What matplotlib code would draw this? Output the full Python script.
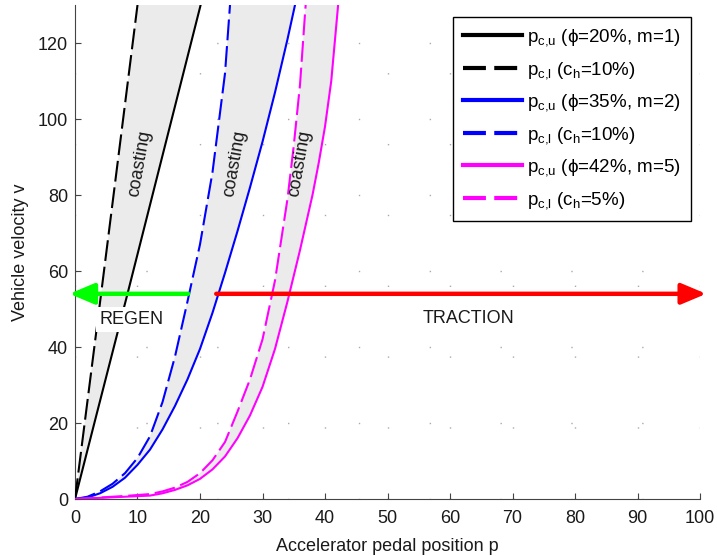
import numpy as np
import matplotlib
matplotlib.use("Agg")
import matplotlib.pyplot as plt

plt.rcParams['font.family'] = ['Liberation Sans', 'DejaVu Sans']
plt.rcParams['mathtext.fontset'] = 'custom'
plt.rcParams['mathtext.rm'] = 'Liberation Sans'
plt.rcParams['mathtext.it'] = 'Liberation Sans:italic'

# curves: pedal position p (%) vs velocity v
# phi=20%, m=1
p_blk_u = [0, 3.1, 8.4, 20.1]
v_blk_u = [0, 20, 54, 130]
p_blk_l = [0, 4.1, 10.0]
v_blk_l = [0, 53, 130]

# phi=35%, m=2
p_blu_u = [0, 2, 4, 6, 8, 10, 12, 14, 16, 18, 20, 22, 24, 26, 28, 30, 32, 34, 35.2]
v_blu_u = [0, 0.4, 1.5, 3.2, 5.6, 9.0, 13.0, 18.3, 24.5, 31.5, 39.5, 49.0, 59.5, 70.5, 82, 94, 107, 121, 130]
p_blu_l = [0, 2, 4, 6, 8, 10, 12, 14, 16, 18, 20, 22, 24, 24.8]
v_blu_l = [0, 0.6, 2.0, 4.0, 6.8, 10.8, 16.5, 25.5, 37.5, 52, 67, 86, 112, 130]

# phi=42%, m=5
p_mag_u = [0, 4, 8, 12, 14, 16, 18, 20, 22, 24, 26, 28, 30, 32, 34, 36, 38, 39, 40, 41, 42.1]
v_mag_u = [0, 0.3, 0.6, 0.9, 1.5, 2.4, 3.6, 5.3, 7.8, 11.2, 16, 22, 29.5, 39.5, 52, 65.5, 80, 88.5, 98, 110, 130]
p_mag_l = [0, 4, 8, 12, 14, 16, 18, 20, 22, 24, 26, 28, 30, 32, 34, 35, 36, 36.9]
v_mag_l = [0, 0.4, 0.8, 1.3, 2.0, 3.0, 4.5, 6.8, 10.2, 15, 23, 31.5, 42, 57.5, 79, 93, 109, 130]

labels = [r'$\mathrm{p_{c{,}u}}$ (ϕ=20%, m=1)', r'$\mathrm{p_{c{,}l}}$ ($\mathrm{c_h}$=10%)',
          r'$\mathrm{p_{c{,}u}}$ (ϕ=35%, m=2)', r'$\mathrm{p_{c{,}l}}$ ($\mathrm{c_h}$=10%)',
          r'$\mathrm{p_{c{,}u}}$ (ϕ=42%, m=5)', r'$\mathrm{p_{c{,}l}}$ ($\mathrm{c_h}$=5%)']

arrow_v = 54
regen_from = 18.1
traction_from = 22.6

fig = plt.figure(figsize=(7.17, 5.56), dpi=100)
ax = fig.add_axes([0.1046, 0.1025, 0.8717, 0.8885])

pairs = [(p_blk_u, v_blk_u, p_blk_l, v_blk_l, 'black'),
         (p_blu_u, v_blu_u, p_blu_l, v_blu_l, '#0000ff'),
         (p_mag_u, v_mag_u, p_mag_l, v_mag_l, '#ff00ff')]

# grey coasting bands between lower and upper threshold
for pu, vu, pl, vl, c in pairs:
    ax.fill(list(pu) + list(pl[::-1]), list(vu) + list(vl[::-1]),
            color='#ebebeb', lw=0, zorder=1)

handles = []
for i, (pu, vu, pl, vl, c) in enumerate(pairs):
    h1, = ax.plot(pu, vu, color=c, lw=1.5, zorder=3, label=labels[2 * i])
    h2, = ax.plot(pl, vl, color=c, lw=1.5, dashes=(10, 2.8), zorder=3, label=labels[2 * i + 1])
    handles += [h1, h2]

for x in [10.4, 25.6, 36.0]:
    ax.text(x, 88.3, 'coasting', rotation=80, fontsize=13, color='#1a1a1a',
            ha='center', va='center', zorder=4)

ax.text(9.1, 47.3, 'REGEN', fontsize=13, color='#1a1a1a', ha='center', va='center', zorder=4,
        bbox=dict(facecolor='white', edgecolor='none', pad=3))
ax.text(62.9, 47.4, 'TRACTION', fontsize=13, color='#1a1a1a', ha='center', va='center', zorder=4)

ax.annotate('', xy=(-0.9, arrow_v), xytext=(regen_from, arrow_v), annotation_clip=False,
            arrowprops=dict(arrowstyle='-|>,head_length=1.0,head_width=0.42', lw=3.2,
                            color='#00ff00', shrinkA=0, shrinkB=0, mutation_scale=15), zorder=5)
ax.annotate('', xy=(101.0, arrow_v), xytext=(traction_from, arrow_v), annotation_clip=False,
            arrowprops=dict(arrowstyle='-|>,head_length=1.0,head_width=0.42', lw=3.2,
                            color='#ff0000', shrinkA=0, shrinkB=0, mutation_scale=15), zorder=5)

ax.set_xlim(0, 100)
ax.set_ylim(0, 130)
ax.set_xticks(np.arange(0, 101, 10))
ax.set_yticks(np.arange(0, 121, 20))
ax.grid(True, color='#aaaaaa', lw=1.0, linestyle=(0, (1, 50)))
ax.set_axisbelow(True)
ax.spines['top'].set_visible(False)
ax.spines['right'].set_visible(False)
for s in ['left', 'bottom']:
    ax.spines[s].set_color('#444444')
ax.tick_params(direction='in', length=4, color='#444444', labelsize=13, labelcolor='#1a1a1a')
ax.tick_params(axis='x', pad=8)
ax.tick_params(axis='y', pad=5)
ax.set_xlabel('Accelerator pedal position p', fontsize=13, color='#1a1a1a', labelpad=8)
ax.set_ylabel('Vehicle velocity v', fontsize=13, color='#1a1a1a', labelpad=6)

leg = ax.legend(handles=handles, loc='upper right', bbox_to_anchor=(0.9856, 0.9757),
                borderaxespad=0, fontsize=13.5, fancybox=False, framealpha=1,
                edgecolor='black', handlelength=3.1, handletextpad=0.3,
                labelspacing=0.62, borderpad=0.55)
leg.get_frame().set_linewidth(1.0)
for i, l in enumerate(leg.get_lines()):
    l.set_linewidth(3)
    if i % 2 == 1:
        l.set_dashes((5.5, 2))

fig.savefig('out.png', dpi=100)
